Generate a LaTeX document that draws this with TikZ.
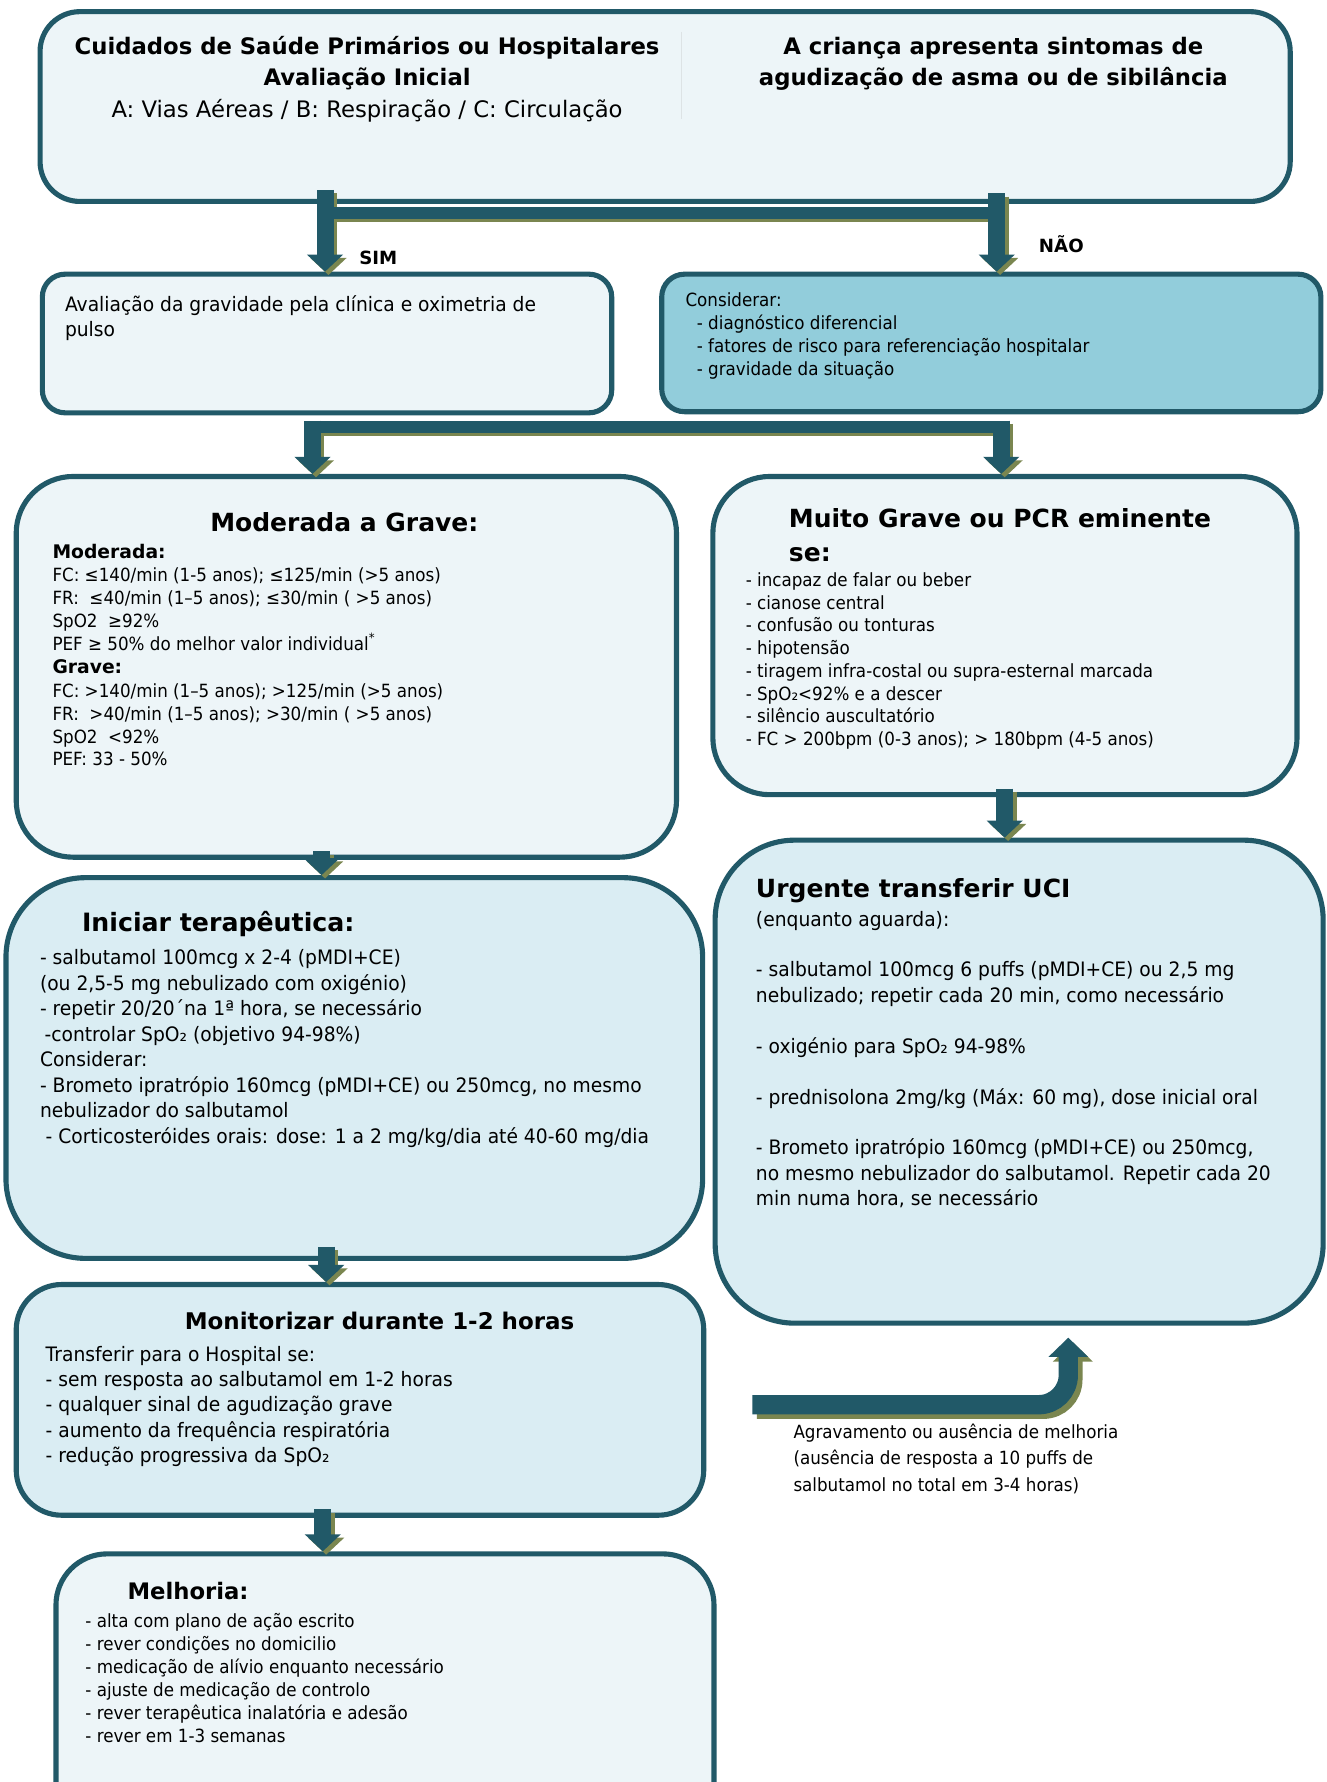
\documentclass[tikz,border=0pt]{standalone}
\usepackage{fontspec}
\setmainfont{DejaVu Sans}
\newfontfamily\rf{DejaVu Sans}[FakeStretch=0.94]
\newfontfamily\cf{DejaVu Sans}[FakeStretch=0.92]
\newfontfamily\hf{DejaVu Sans}
\usetikzlibrary{arrows.meta}
\definecolor{dk}{HTML}{215968}
\definecolor{ol}{RGB}{122,134,80}
\definecolor{lA}{HTML}{EDF5F8}
\definecolor{lB}{HTML}{DAEDF3}
\definecolor{md}{HTML}{92CDDB}
\definecolor{sepc}{HTML}{DDE3E5}
\newcommand\fR{\rf\fontsize{17.5}{21}\selectfont}
\newcommand\fRt{\hf\fontsize{20}{24}\selectfont}
\newcommand\fC{\cf\fontsize{16}{20}\selectfont}
\newcommand\fH{\hf\bfseries\fontsize{22}{26}\selectfont}
\newcommand\fHt{\hf\bfseries\fontsize{20}{24}\selectfont}
\newcommand\fHs{\hf\bfseries\fontsize{16.5}{20}\selectfont}
\newcommand\mlines[6]{\foreach \tx [count=\i from 0] in {#6}{\node[tl,font=#5] (#1\i) at (#2,{#3+\i*#4}) {\tx};}}
\tikzset{
  box/.style={draw=dk, line width=4.5pt, inner sep=0pt, anchor=north west},
  tl/.style={inner sep=0pt, anchor=base west},
  tc/.style={inner sep=0pt, anchor=base},
  arr/.style={draw=dk, line width=15pt, -{Triangle[width=31pt,length=15pt]}},
  arrs/.style={draw=ol, line width=15pt, -{Triangle[width=31pt,length=15pt]}, transform canvas={xshift=3pt,yshift=-3pt}},
  hbar/.style={draw=dk, line width=10pt},
  hbars/.style={draw=ol, line width=10pt, transform canvas={xshift=3pt,yshift=-3pt}},
  barr/.style={draw=dk, line width=17pt, rounded corners=26pt, -{Triangle[width=34pt,length=17pt]}},
  barrs/.style={draw=ol, line width=17pt, rounded corners=26pt, -{Triangle[width=34pt,length=17pt]}, transform canvas={xshift=4pt,yshift=-4pt}},
}
\begin{document}
\begin{tikzpicture}[x=1pt,y=-1pt]
\useasboundingbox (0,0) rectangle (1167,1568);
\clip (0,0) rectangle (1167,1568);
\fill[white] (0,0) rectangle (1167,1568);

% ---------- boxes ----------
\node[box, fill=lA, rounded corners=35pt, minimum width=1100pt, minimum height=167pt] (top) at (33,8) {};
\node[box, fill=lA, rounded corners=20pt, minimum width=501pt, minimum height=122pt] (sim) at (35,239) {};
\node[box, fill=md, rounded corners=20pt, minimum width=580pt, minimum height=121pt] (con) at (580,239) {};
\node[box, fill=lA, rounded corners=50pt, minimum width=581pt, minimum height=335pt] (mod) at (12,417) {};
\node[box, fill=lA, rounded corners=50pt, minimum width=514pt, minimum height=280pt] (mg) at (625,417) {};
\node[box, fill=lB, rounded corners=70pt, minimum width=535pt, minimum height=425pt] (urg) at (627,737) {};
\node[box, fill=lB, rounded corners=70pt, minimum width=613pt, minimum height=335pt] (ini) at (3,770) {};
\node[box, fill=lB, rounded corners=40pt, minimum width=605pt, minimum height=203pt] (mon) at (12,1128) {};
\node[box, fill=lA, rounded corners=45pt, minimum width=579pt, minimum height=300pt] (mel) at (47,1365) {};

% ---------- connectors ----------
\coordinate (a1) at (286,167);
\coordinate (a2) at (877,170);
\coordinate (j1) at (286,187.5);
\coordinate (j2) at (884,187.5);
\draw[hbars] (j1) -- (j2);
\draw[arrs] (a1) -- (a1 |- sim.north);
\draw[arrs] (a2) -- (a2 |- con.north);
\draw[hbar] (j1) -- (j2);
\draw[arr] (a1) -- (a1 |- sim.north);
\draw[arr] (a2) -- (a2 |- con.north);

\coordinate (c1) at (275,370);
\coordinate (c2) at (881,370);
\coordinate (k1) at (268,375.5);
\coordinate (k2) at (888,375.5);
\draw[hbars] (k1) -- (k2);
\draw[arrs] (c1) -- (c1 |- mod.north);
\draw[arrs] (c2) -- (c2 |- mg.north);
\draw[hbar, line width=11pt] (k1) -- (k2);
\draw[arr] (c1) -- (c1 |- mod.north);
\draw[arr] (c2) -- (c2 |- mg.north);

\coordinate (d1) at (884,694);
\draw[arrs] (d1) -- (d1 |- urg.north);
\draw[arr] (d1) -- (d1 |- urg.north);
\coordinate (d2) at (283,749);
\draw[arrs] (d2) -- (d2 |- ini.north);
\draw[arr] (d2) -- (d2 |- ini.north);
\coordinate (d3) at (287,1097);
\draw[arrs] (d3) -- (d3 |- mon.north);
\draw[arr] (d3) -- (d3 |- mon.north);
\coordinate (d4) at (284,1328);
\draw[arrs] (d4) -- (d4 |- mel.north);
\draw[arr] (d4) -- (d4 |- mel.north);

\coordinate (b0) at (662,1236);
\coordinate (b1) at (940,1177);
\draw[barrs] (b0) -- (b0 -| b1) -- (b1);
\draw[barr] (b0) -- (b0 -| b1) -- (b1);

% ---------- texts ----------
\draw[sepc, line width=1pt] (600,28) -- (600,105);
\node[tc, font=\fHt] (t1) at (323,48) {Cuidados de Saúde Primários ou Hospitalares};
\node[tc, font=\fHt] (t2) at (323,75) {Avaliação Inicial};
\node[tc, font=\fRt] (t3) at (323,103) {A: Vias Aéreas / B: Respiração / C: Circulação};
\node[tc, font=\fHt] (t4) at (874,48) {A criança apresenta sintomas de};
\node[tc, font=\fHt] (t5) at (874,75) {agudização de asma ou de sibilância};

\node[tl, font=\hf\bfseries\fontsize{16}{19}\selectfont] (lsim) at (316,233) {SIM};
\node[tl, font=\hf\bfseries\fontsize{16}{19}\selectfont] (lnao) at (914,222) {NÃO};

\mlines{s}{57}{274}{22}{\fR}{{Avaliação da gravidade pela clínica e oximetria de},{pulso}}

\node[tl, font=\fC] (cn0) at (603,270) {Considerar:};
\mlines{cn}{613}{290}{20}{\fC}{{- diagnóstico diferencial},{- fatores de risco para referenciação hospitalar},{- gravidade da situação}}

\node[tc, font=\fH] (mt) at (303,468) {Moderada a Grave:};
\node[tl, font=\fHs] (mh1) at (46,491) {Moderada:};
\mlines{ma}{46}{512}{20}{\fC}{{FC: ≤140/min (1-5 anos); ≤125/min (>5 anos)},{FR:\ \ ≤40/min (1–5 anos); ≤30/min ( >5 anos)},{SpO2\ \ ≥92\%},{PEF ≥ 50\% do melhor valor individual\textsuperscript{*}}}
\node[tl, font=\fHs] (mh2) at (46,593) {Grave:};
\mlines{mb}{46}{614}{20}{\fC}{{FC: >140/min (1–5 anos); >125/min (>5 anos)},{FR:\ \ >40/min (1–5 anos); >30/min ( >5 anos)},{SpO2\ \ <92\%},{PEF: 33 - 50\%}}

\node[tl, font=\fH] (gt1) at (694,464) {Muito Grave ou PCR eminente};
\node[tl, font=\fH] (gt2) at (694,494) {se:};
\mlines{g}{656}{516}{20}{\fC}{{- incapaz de falar ou beber},{- cianose central},{- confusão ou tonturas},{- hipotensão},{- tiragem infra-costal ou supra-esternal marcada},{- SpO₂<92\% e a descer},{- silêncio auscultatório},{- FC > 200bpm (0-3 anos); > 180bpm (4-5 anos)}}

\node[tl, font=\fH] (ut) at (665,790) {Urgente transferir UCI};
\node[tl, font=\fR] (u0) at (665,815) {(enquanto aguarda):};
\node[tl, font=\fR] (u1) at (665,859) {- salbutamol 100mcg 6 puffs (pMDI+CE) ou 2,5 mg};
\node[tl, font=\fR] (u2) at (665,882) {nebulizado; repetir cada 20 min, como necessário};
\node[tl, font=\fR] (u3) at (665,927) {- oxigénio para SpO₂ 94-98\%};
\node[tl, font=\fR] (u4) at (665,972) {- prednisolona 2mg/kg (Máx: 60 mg), dose inicial oral};
\node[tl, font=\fR] (u5) at (665,1016) {- Brometo ipratrópio 160mcg (pMDI+CE) ou 250mcg,};
\node[tl, font=\fR] (u6) at (665,1039) {no mesmo nebulizador do salbutamol. Repetir cada 20};
\node[tl, font=\fR] (u7) at (665,1061) {min numa hora, se necessário};

\node[tl, font=\hf\bfseries\fontsize{22.2}{26}\selectfont] (it) at (72,820) {Iniciar terapêutica:};
\mlines{i}{35}{849}{22.4}{\fR}{{- salbutamol 100mcg x 2-4 (pMDI+CE)},{(ou 2,5-5 mg nebulizado com oxigénio)},{- repetir 20/20´na 1ª hora, se necessário},{\hspace{4pt}-controlar SpO₂ (objetivo 94-98\%)},{Considerar:},{- Brometo ipratrópio 160mcg (pMDI+CE) ou 250mcg, no mesmo},{nebulizador do salbutamol},{\hspace{5pt}- Corticosteróides orais: dose: 1 a 2 mg/kg/dia até 40-60 mg/dia}}

\node[tc, font=\hf\bfseries\fontsize{20.2}{24}\selectfont] (mot) at (334,1170) {Monitorizar durante 1-2 horas};
\mlines{m}{40}{1198}{22.2}{\fR}{{Transferir para o Hospital se:},{- sem resposta ao salbutamol em 1-2 horas},{- qualquer sinal de agudização grave},{- aumento da frequência respiratória},{- redução progressiva da SpO₂}}

\node[tl, font=\hf\bfseries\fontsize{20}{24}\selectfont] (met) at (112,1407) {Melhoria:};
\mlines{e}{75}{1432}{20.2}{\fC}{{- alta com plano de ação escrito},{- rever condições no domicilio},{- medicação de alívio enquanto necessário},{- ajuste de medicação de controlo},{- rever terapêutica inalatória e adesão},{- rever em 1-3 semanas}}

\mlines{ag}{698}{1266}{23}{\fC}{{Agravamento ou ausência de melhoria},{(ausência de resposta a 10 puffs de},{salbutamol no total em 3-4 horas)}}
\end{tikzpicture}
\end{document}
